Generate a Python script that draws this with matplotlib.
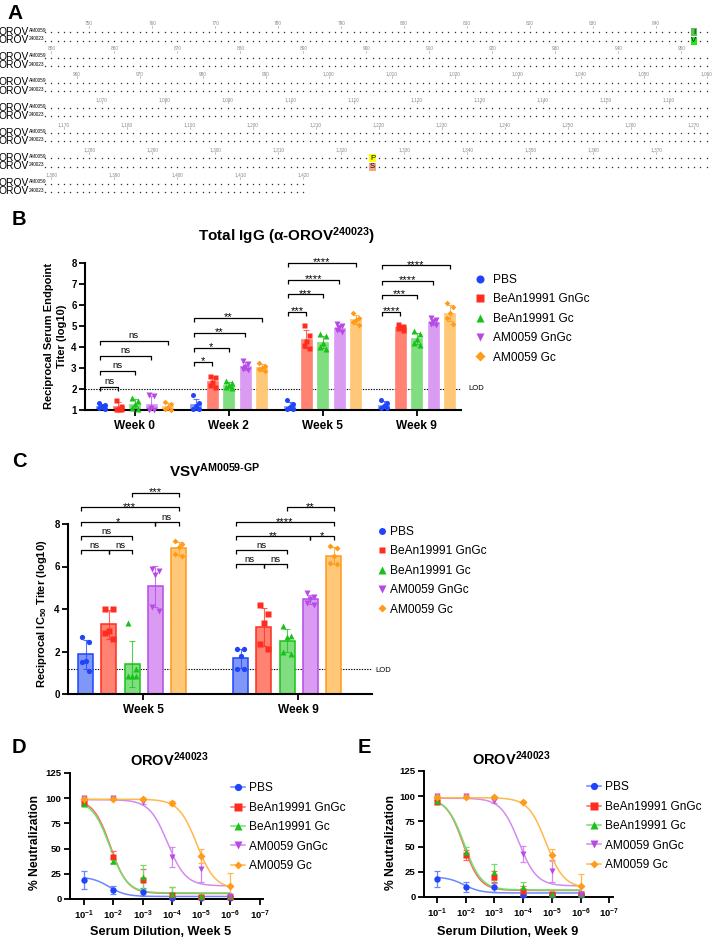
import numpy as np
import matplotlib
matplotlib.use('Agg')
import matplotlib.pyplot as plt
from matplotlib.lines import Line2D
from matplotlib.patches import Rectangle

plt.rcParams['font.family'] = ['Liberation Sans', 'DejaVu Sans']
plt.rcParams['mathtext.default'] = 'regular'
plt.rcParams['axes.unicode_minus'] = False

# ---------------- data ----------------
# Panel A: alignment rows (residue ranges) and the two differing residues
aln_row_start = [743, 849, 955, 1061, 1167, 1273, 1379]
aln_row_end = [848, 954, 1060, 1166, 1272, 1378, 1420]
aln_seq_names = ['AM0059', '240023']
aln_diff_pos = [846, 1325]
aln_diff_am0059 = ['I', 'P']
aln_diff_240023 = ['V', 'S']

groups = ['PBS', 'BeAn19991 GnGc', 'BeAn19991 Gc', 'AM0059 GnGc', 'AM0059 Gc']

# Panel B: total IgG endpoint titers (log10), 5 mice per group, per week
igg_weeks = ['Week 0', 'Week 2', 'Week 5', 'Week 9']
igg_pbs = [[1.35, 1.25, 1.2, 1.1, 1.05], [1.7, 1.35, 1.2, 1.05, 1.05],
           [1.5, 1.3, 1.15, 1.05, 1.05], [1.5, 1.35, 1.2, 1.1, 1.1]]
igg_bean_gngc = [[1.5, 1.2, 1.05, 1.05, 1.05], [2.6, 2.55, 2.35, 2.2, 2.1],
                 [5.05, 4.55, 4.3, 4.1, 3.95], [5.1, 5.0, 4.95, 4.9, 4.8]]
igg_bean_gc = [[1.55, 1.45, 1.3, 1.1, 1.05], [2.4, 2.3, 2.2, 2.1, 2.05],
               [4.6, 4.5, 4.2, 4.0, 3.9], [4.75, 4.6, 4.4, 4.2, 4.1]]
igg_am_gngc = [[1.7, 1.65, 1.1, 1.0, 1.0], [3.35, 3.2, 3.05, 2.95, 2.9],
               [5.1, 5.0, 4.9, 4.8, 4.7], [5.4, 5.3, 5.2, 5.1, 5.05]]
igg_am_gc = [[1.4, 1.3, 1.15, 1.05, 1.0], [3.25, 3.1, 3.0, 2.95, 2.85],
             [5.6, 5.4, 5.3, 5.2, 5.05], [6.1, 5.9, 5.6, 5.4, 5.1]]
igg_lod = 2
igg_comparisons = [(0, 1), (0, 2), (0, 3), (0, 4)]
igg_sig = [['ns', 'ns', 'ns', 'ns'], ['*', '*', '**', '**'],
           ['***', '***', '****', '****'], ['****', '***', '****', '****']]

# Panel C: VSV-AM0059-GP neutralization IC50 titers (log10)
nt_weeks = ['Week 5', 'Week 9']
nt_pbs = [[2.7, 2.45, 1.55, 1.5, 1.1], [2.1, 2.1, 1.8, 1.2, 1.2]]
nt_bean_gngc = [[4.0, 4.0, 2.95, 2.85, 2.6], [4.2, 3.75, 3.35, 2.35, 2.1]]
nt_bean_gc = [[3.35, 1.2, 0.85, 0.85, 0.85], [3.2, 2.75, 2.7, 2.0, 1.9]]
nt_am_gngc = [[5.9, 5.8, 5.6, 4.1, 3.9], [4.75, 4.55, 4.45, 4.3, 4.2]]
nt_am_gc = [[7.2, 7.05, 6.9, 6.6, 6.5], [6.95, 6.85, 6.5, 6.15, 6.1]]
nt_lod = 1.2
nt_comp_w5 = [(2, 4, '***'), (0, 4, '***'), (0, 3, '*'), (3, 4, 'ns'),
              (0, 2, 'ns'), (0, 1, 'ns'), (1, 2, 'ns')]
nt_comp_w9 = [(2, 4, '**'), (0, 4, '****'), (0, 3, '**'), (3, 4, '*'),
              (0, 2, 'ns'), (0, 1, 'ns'), (1, 2, 'ns')]

# Panels D/E: % neutralization of OROV 240023 (mean, SD) vs serum dilution
dilution_exp = [-1, -2, -3, -4, -5, -6]
dil_tick_exp = [-1, -2, -3, -4, -5, -6, -7]
w5_mean = [[19, 9, 7, 1, 1, 1], [95, 42, 19, 4, 2, 2], [94, 38, 22, 5, 3, 3],
           [100, 100, 96, 42, 30, 3], [99, 99, 99, 95, 43, 13]]
w5_sd = [[9, 4, 4, 1, 1, 1], [2, 6, 11, 8, 1, 1], [2, 3, 12, 7, 1, 1],
         [1, 1, 2, 10, 13, 1], [0.5, 0.5, 1, 2, 7, 13]]
w9_mean = [[18, 10, 10, 2, 2, 2], [94, 42, 20, 6, 3, 3], [95, 45, 25, 10, 3, 3],
           [100, 100, 95, 43, 26, 3], [99, 99, 99, 94, 42, 11]]
w9_sd = [[8, 5, 5, 1, 1, 1], [2, 5, 6, 5, 1, 1], [2, 5, 8, 5, 1, 1],
         [1, 1, 2, 8, 11, 1], [0.5, 0.5, 1, 1, 6, 12]]
# four-parameter logistic fits (top, bottom, logIC50, hill)
w5_fit_top = [22, 99, 98, 98.5, 99]
w5_fit_bottom = [2.5, 5.5, 6, 13, 10]
w5_fit_logic50 = [-1.85, -1.9, -1.88, -3.85, -4.85]
w5_fit_hill = [1.5, 1.5, 1.45, 1.4, 1.4]
w9_fit_top = [20, 98, 98, 98, 98.5]
w9_fit_bottom = [4, 6.5, 7, 11, 9]
w9_fit_logic50 = [-1.95, -1.92, -1.95, -3.85, -4.8]
w9_fit_hill = [1.5, 1.5, 1.45, 1.4, 1.4]

# ---------------- style ----------------
group_colors = ['#1f45fc', '#ff2d1f', '#19c219', '#b74ae6', '#ff9a1a']
bar_face = ['#7f98f7', '#ff8272', '#80dd80', '#d99cf2', '#ffc778']
curve_colors = ['#6d86ff', '#ff6a5a', '#6ee06e', '#d58af0', '#ffb84d']
markers = ['o', 's', '^', 'v', 'D']
msize_scale = [1.0, 1.0, 1.05, 1.05, 0.8]

W, H = 713, 941
fig = plt.figure(figsize=(W / 100, H / 100), dpi=100)


def box(x0, y0, x1, y1):
    return [x0 / W, 1 - y1 / H, (x1 - x0) / W, (y1 - y0) / H]


def ftext(x, y, s, **kw):
    fig.text(x / W, 1 - y / H, s, **kw)


def style_axes(ax, lw=1.5):
    for s in ['top', 'right']:
        ax.spines[s].set_visible(False)
    for s in ['left', 'bottom']:
        ax.spines[s].set_linewidth(lw)
    ax.tick_params(direction='out', length=4, width=1.3, pad=2)


def bracket(ax, x1, x2, y, label, h):
    ax.plot([x1, x1, x2, x2], [y - h, y, y, y - h], color='k', lw=0.9,
            clip_on=False, solid_capstyle='butt')
    if label == 'ns':
        ax.annotate(label, xy=((x1 + x2) / 2, y), xytext=(0, 2.0),
                    textcoords='offset points', ha='center', va='baseline',
                    fontsize=6.8, annotation_clip=False)
    else:
        ax.annotate(label, xy=((x1 + x2) / 2, y), xytext=(0, -1.8),
                    textcoords='offset points', ha='center', va='baseline',
                    fontsize=8, annotation_clip=False)


# ---------------- Panel A ----------------
axA = fig.add_axes(box(0, 0, W, 205))
axA.set_xlim(0, W)
axA.set_ylim(205, 0)
axA.axis('off')
res_step = 6.3
x_first = 45
for i, (rs, re) in enumerate(zip(aln_row_start, aln_row_end)):
    y1 = 32.3 + 25.2 * i
    y2 = y1 + 8.3
    res = np.arange(rs, re + 1)
    keep = ~np.isin(res, aln_diff_pos)
    xs = x_first + (res - rs) * res_step
    for yy in (y1, y2):
        axA.scatter(xs[keep], np.full(keep.sum(), yy), s=1.1, color='#333333',
                    linewidths=0, marker='o')
    for r, xx in zip(res, xs):
        if r % 10 == 0:
            axA.text(xx, y1 - 8.6, f'{r:,}', fontsize=3.4, color='#888888',
                     ha='center', va='center')
            axA.plot([xx, xx], [y1 - 6.6, y1 - 4.6], color='#aaaaaa', lw=0.5)
    for yy, nm in zip((y1, y2), aln_seq_names):
        axA.text(-1.5, yy + 2.7, 'OROV', fontsize=7.4, ha='left', va='baseline')
        axA.text(29.0, yy - 0.2, nm, fontsize=3.4, ha='left', va='baseline')
    for p, a, b in zip(aln_diff_pos, aln_diff_am0059, aln_diff_240023):
        if rs <= p <= re:
            xx = x_first + (p - rs) * res_step
            col_a = '#58c458' if a == 'I' else '#ffff00'
            col_b = '#22e622' if b == 'V' else '#f5a58c'
            axA.add_patch(Rectangle((xx - 3.2, y1 - 3.9), 6.4, 7.8, color=col_a, lw=0))
            axA.add_patch(Rectangle((xx - 3.2, y2 - 3.9), 6.4, 7.8, color=col_b, lw=0))
            axA.text(xx, y1 + 0.3, a, fontsize=5.5, ha='center', va='center')
            axA.text(xx, y2 + 0.3, b, fontsize=5.5, ha='center', va='center')

# panel letters
ftext(7, 19, 'A', fontsize=15, fontweight='bold')
ftext(12, 225, 'B', fontsize=14.5, fontweight='bold')
ftext(12, 467, 'C', fontsize=14.5, fontweight='bold')
ftext(12, 753, 'D', fontsize=14.5, fontweight='bold')
ftext(358, 753, 'E', fontsize=14.5, fontweight='bold')

# ---------------- Panel B ----------------
axB = fig.add_axes(box(85, 263, 461, 410))
style_axes(axB)
axB.set_xlim(-0.53, 3.47)
axB.set_ylim(1, 8)
slotB, wB = 0.1755, 0.117
jit = np.array([-0.25, 0.25, 0.0, -0.25, 0.25])
igg_all = [igg_pbs, igg_bean_gngc, igg_bean_gc, igg_am_gngc, igg_am_gc]
for g, data in enumerate(igg_all):
    for w in range(len(igg_weeks)):
        pts = np.array(data[w])
        m, sd = pts.mean(), pts.std(ddof=1)
        x = w + (g - 2) * slotB
        axB.bar(x, m - 1, width=wB, bottom=1, color=bar_face[g],
                edgecolor=bar_face[g], lw=0.5, zorder=2)
        axB.errorbar(x, m, yerr=sd, fmt='none', ecolor=group_colors[g],
                     elinewidth=0.8, capsize=2, capthick=0.8, zorder=3, alpha=0.7)
        axB.plot(x + jit * wB, pts, linestyle='none', marker=markers[g],
                 ms=3.6 * msize_scale[g], color=group_colors[g], mec='none', zorder=4,
                 clip_on=False)
axB.axhline(igg_lod, color='k', lw=0.8, ls=(0, (1.2, 1.2)), zorder=1)
axB.set_yticks(range(1, 9))
axB.set_yticklabels([str(v) for v in range(1, 9)], fontsize=7, fontweight='bold')
axB.set_xticks(range(len(igg_weeks)))
axB.set_xticklabels(igg_weeks, fontsize=8.6, fontweight='bold')
axB.tick_params(axis='x', pad=3)
igg_levels = [[2.1, 2.86, 3.57, 4.29], [3.29, 3.95, 4.67, 5.38],
              [5.67, 6.52, 7.19, 8.0], [5.67, 6.48, 7.14, 7.9]]
for w in range(len(igg_weeks)):
    for (a, b), lab, lev in zip(igg_comparisons, igg_sig[w], igg_levels[w]):
        bracket(axB, w + (a - 2) * slotB - 0.02, w + (b - 2) * slotB, lev, lab, 0.2)
ftext(287, 241, r'Total IgG (α-OROV$^{240023}$)', fontsize=11, fontweight='bold',
      ha='center', va='baseline')
ftext(55.5, 336, 'Reciprocal Serum Endpoint\nTiter (log10)', fontsize=8,
      fontweight='bold', rotation=90, ha='center', va='center', linespacing=1.3,
      multialignment='center')
ftext(468, 389, 'LOD', fontsize=5.5, va='center', ha='left')

legB = [Line2D([], [], ls='none', marker=markers[g], color=group_colors[g], mec='none',
               ms=5.8 * msize_scale[g]) for g in range(5)]
fig.legend(legB, groups, loc='upper left', bbox_to_anchor=(474 / W, 1 - 274 / H),
           frameon=False, fontsize=8.6, handlelength=1.0, handletextpad=0.55,
           labelspacing=0.62, borderpad=0, borderaxespad=0)

# ---------------- Panel C ----------------
axC = fig.add_axes(box(68, 524, 372, 694))
style_axes(axC)
axC.set_xlim(-0.413, 1.548)
axC.set_ylim(0, 8)
slotC, wC = 0.15, 0.097
nt_all = [nt_pbs, nt_bean_gngc, nt_bean_gc, nt_am_gngc, nt_am_gc]
for g, data in enumerate(nt_all):
    for w in range(len(nt_weeks)):
        pts = np.array(data[w])
        m, sd = pts.mean(), pts.std(ddof=1)
        x = w + (g - 2) * slotC
        axC.bar(x, m, width=wC, color=bar_face[g], edgecolor=group_colors[g],
                lw=1.1, zorder=2)
        axC.errorbar(x, m, yerr=sd, fmt='none', ecolor=group_colors[g],
                     elinewidth=0.8, capsize=2.5, capthick=0.8, zorder=3, alpha=0.75)
        axC.plot(x + jit * wC, pts, linestyle='none', marker=markers[g],
                 ms=3.8 * msize_scale[g], color=group_colors[g], mec='none', zorder=4)
axC.axhline(nt_lod, color='k', lw=0.8, ls=(0, (1.2, 1.2)), zorder=1)
axC.set_yticks(range(0, 9, 2))
axC.set_yticklabels([str(v) for v in range(0, 9, 2)], fontsize=7, fontweight='bold')
axC.set_xticks([w + 0.071 for w in range(len(nt_weeks))])
axC.set_xticklabels(nt_weeks, fontsize=8.6, fontweight='bold')
axC.tick_params(axis='x', pad=3)
nt_levels_w5 = [9.48, 8.78, 8.08, 8.08, 7.42, 6.76, 6.76]
nt_levels_w9 = [8.78, 8.08, 7.42, 7.42, 6.76, 6.10, 6.10]
for w, comps, levs in ((0, nt_comp_w5, nt_levels_w5), (1, nt_comp_w9, nt_levels_w9)):
    for (a, b, lab), lev in zip(comps, levs):
        x1 = w + (a - 2) * slotC + (-0.03 if a == 0 else 0.0)
        x2 = w + (b - 2) * slotC
        bracket(axC, x1, x2, lev, lab, 0.19)
ftext(215, 477, r'VSV$^{AM0059\text{-}GP}$', fontsize=11, fontweight='bold',
      ha='center', va='baseline')
ftext(42, 614, r'Reciprocal IC$_{50}$ Titer (log10)', fontsize=8, fontweight='bold',
      rotation=90, ha='center', va='center')
ftext(375, 670, 'LOD', fontsize=5.5, va='center', ha='left')
legC = [Line2D([], [], ls='none', marker=markers[g], color=group_colors[g], mec='none',
               ms=5.0 * msize_scale[g]) for g in range(5)]
fig.legend(legC, groups, loc='upper left', bbox_to_anchor=(377 / W, 1 - 526 / H),
           frameon=False, fontsize=8.6, handlelength=0.8, handletextpad=0.25,
           labelspacing=0.62, borderpad=0, borderaxespad=0)


# ---------------- Panels D / E ----------------
def four_pl(xlog, top, bottom, logic50, hill):
    return bottom + (top - bottom) / (1 + 10 ** ((logic50 - xlog) * hill))


def neut_panel(rect, xlim_exp, means, sds, tops, bottoms, logs, hills,
               title_xy, ylab_x, xlab_xy, xlab, leg_xy):
    ax = fig.add_axes(box(*rect))
    style_axes(ax, lw=1.4)
    ax.set_xscale('log')
    ax.set_xlim(10 ** xlim_exp[0], 10 ** xlim_exp[1])
    ax.set_ylim(0, 125)
    dil = 10.0 ** np.array(dilution_exp)
    xl = np.linspace(dilution_exp[0], dilution_exp[-1], 300)
    handles = []
    for g in range(5):
        ax.plot(10 ** xl, four_pl(xl, tops[g], bottoms[g], logs[g], hills[g]),
                color=curve_colors[g], lw=1.1, zorder=2)
        ax.errorbar(dil, means[g], yerr=sds[g], fmt='none', ecolor=curve_colors[g],
                    elinewidth=0.9, capsize=2.5, capthick=0.9, zorder=3)
        ax.plot(dil, means[g], ls='none', marker=markers[g], ms=4.6 * msize_scale[g],
                color=group_colors[g], mec='none', zorder=4, clip_on=False)
        handles.append(Line2D([], [], color=curve_colors[g], lw=1.1, marker=markers[g],
                              mfc=group_colors[g], mec='none', ms=5.2 * msize_scale[g]))
    ax.set_yticks(range(0, 126, 25))
    ax.set_yticklabels([str(v) for v in range(0, 126, 25)], fontsize=6.8,
                       fontweight='bold')
    ax.set_xticks(10.0 ** np.array(dil_tick_exp))
    ax.set_xticklabels([f'10$^{{{e}}}$' for e in dil_tick_exp], fontsize=6.8,
                       fontweight='bold')
    ax.minorticks_off()
    ax.tick_params(axis='x', pad=3)
    ftext(title_xy[0], title_xy[1], r'OROV$^{240023}$', fontsize=10.5,
          fontweight='bold', ha='center', va='baseline')
    ftext(ylab_x, 842, '% Neutralization', fontsize=8.7, fontweight='bold',
          rotation=90, ha='center', va='center')
    ftext(xlab_xy[0], xlab_xy[1], xlab, fontsize=9.2, fontweight='bold',
          ha='center', va='baseline')
    fig.legend(handles, groups, loc='upper left',
               bbox_to_anchor=(leg_xy[0] / W, 1 - leg_xy[1] / H), frameon=False,
               fontsize=8.6, handlelength=1.2, handletextpad=0.3, labelspacing=0.62,
               borderpad=0, borderaxespad=0)
    return ax


neut_panel((70, 773, 263, 899), (-0.52, -7.11), w5_mean, w5_sd, w5_fit_top,
           w5_fit_bottom, w5_fit_logic50, w5_fit_hill, (170, 766), 35, (161, 935),
           'Serum Dilution, Week 5', (231, 782.4))
neut_panel((424, 771, 613, 897), (-0.55, -7.13), w9_mean, w9_sd, w9_fit_top,
           w9_fit_bottom, w9_fit_logic50, w9_fit_hill, (512, 765), 391, (508, 935),
           'Serum Dilution, Week 9', (587, 781.4))

fig.savefig('out.png', dpi=100)
